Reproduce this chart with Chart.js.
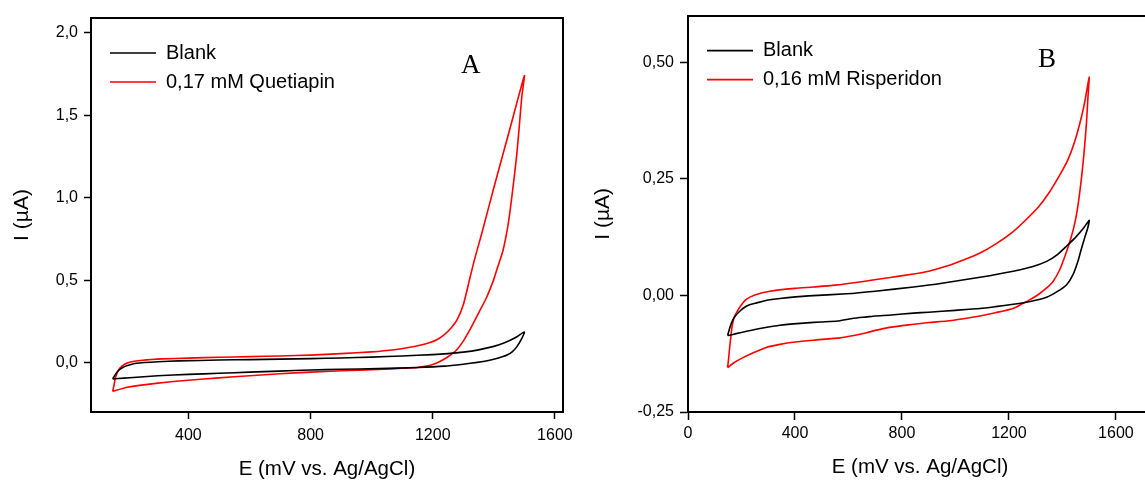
<!DOCTYPE html>
<html>
<head>
<meta charset="utf-8">
<script src="https://cdn.jsdelivr.net/npm/chart.js@4.4.1/dist/chart.umd.min.js"></script>
<style>
  html, body { margin: 0; padding: 0; background: #fff; overflow: hidden; width: 1145px; height: 482px; }
  .panel { position: absolute; top: 0; width: 580px; height: 482px; }
  #panelA { left: 0; }
  #panelB { left: 580px; }
</style>
</head>
<body>
<div class="panel" id="panelA"><canvas id="chartA"></canvas></div>
<div class="panel" id="panelB"><canvas id="chartB"></canvas></div>
<script>
// Panel A - Quetiapin, potential (mV) and current (uA), loop: forward scan then back
const blankA_E = [152, 160, 170, 185, 200, 230, 300, 370, 500, 600, 700, 800, 900, 1000, 1100, 1200, 1250, 1300, 1350, 1400, 1433, 1470, 1500,
                  1490, 1475, 1460, 1445, 1430, 1400, 1370, 1346, 1300, 1238, 1150, 1021, 900, 800, 696, 600, 500, 400, 300, 208, 170, 152];
const blankA_I = [-0.100, -0.075, -0.050, -0.030, -0.018, -0.004, 0.005, 0.010, 0.015, 0.018, 0.021, 0.024, 0.028, 0.033, 0.040, 0.048, 0.054, 0.063, 0.077, 0.098, 0.118, 0.150, 0.185,
                  0.140, 0.095, 0.065, 0.047, 0.036, 0.020, 0.008, 0.001, -0.010, -0.022, -0.030, -0.037, -0.041, -0.045, -0.052, -0.058, -0.065, -0.072, -0.080, -0.092, -0.097, -0.100];

const quetiapin_E = [152, 156, 160, 165, 175, 190, 210, 250, 316, 400, 500, 600, 700, 800, 900, 1000, 1075, 1125, 1175, 1210, 1238, 1260, 1280, 1300, 1320, 1336, 1360, 1400, 1450, 1500,
                     1492, 1485, 1475, 1460, 1447, 1430, 1411, 1399, 1375, 1350, 1325, 1300, 1275, 1250, 1225, 1200, 1184, 1150, 1100, 1021, 900, 800, 700, 600, 500, 400, 300, 200, 152];
const quetiapin_I = [-0.175, -0.14, -0.10, -0.07, -0.035, -0.012, 0.003, 0.014, 0.022, 0.027, 0.032, 0.036, 0.040, 0.045, 0.054, 0.065, 0.078, 0.093, 0.113, 0.135, 0.17, 0.21, 0.26, 0.35, 0.50, 0.62, 0.78, 1.06, 1.40, 1.74,
                     1.62, 1.47, 1.26, 1.02, 0.84, 0.68, 0.57, 0.50, 0.39, 0.30, 0.21, 0.13, 0.07, 0.035, 0.008, -0.012, -0.020, -0.030, -0.035, -0.042, -0.050, -0.058, -0.068, -0.080, -0.093, -0.107, -0.125, -0.150, -0.175];

const xTicksA = [400, 800, 1200, 1600];
const yTicksA = [0, 0.5, 1.0, 1.5, 2.0];

// Panel B - Risperidon
const blankB_E = [148, 155, 162, 170, 180, 190, 205, 230, 257, 300, 344, 450, 593, 700, 843, 950, 1092, 1216, 1290, 1341, 1380, 1416, 1450, 1480, 1500,
                  1495, 1484, 1470, 1459, 1440, 1416, 1380, 1341, 1280, 1216, 1150, 1092, 1000, 900, 843, 760, 700, 668, 618, 560, 494, 420, 344, 280, 219, 180, 160, 148];
const blankB_I = [-0.086, -0.072, -0.060, -0.050, -0.042, -0.036, -0.028, -0.020, -0.016, -0.010, -0.0065, -0.001, 0.0035, 0.009, 0.018, 0.026, 0.039, 0.052, 0.062, 0.073, 0.087, 0.106, 0.125, 0.145, 0.161,
                  0.145, 0.125, 0.098, 0.075, 0.045, 0.023, 0.008, -0.004, -0.013, -0.019, -0.024, -0.028, -0.032, -0.036, -0.038, -0.042, -0.044, -0.046, -0.049, -0.055, -0.057, -0.060, -0.064, -0.070, -0.077, -0.082, -0.085, -0.086];

const risperidon_E = [148, 152, 156, 160, 164, 172, 185, 200, 219, 250, 307, 400, 469, 550, 656, 750, 843, 900, 968, 1030, 1092, 1150, 1216, 1260, 1311, 1350, 1391, 1420, 1446, 1470, 1484, 1500,
                      1495, 1490, 1480, 1470, 1460, 1450, 1440, 1425, 1410, 1390, 1365, 1341, 1310, 1279, 1250, 1216, 1150, 1092, 1030, 968, 900, 843, 760, 700, 668, 620, 569, 469, 400, 344, 290, 244, 200, 170, 148];
const risperidon_I = [-0.155, -0.135, -0.11, -0.09, -0.07, -0.048, -0.033, -0.020, -0.008, 0.001, 0.009, 0.015, 0.018, 0.022, 0.030, 0.038, 0.046, 0.052, 0.063, 0.076, 0.091, 0.110, 0.137, 0.160, 0.190, 0.220, 0.259, 0.290, 0.330, 0.380, 0.416, 0.468,
                      0.420, 0.370, 0.300, 0.245, 0.200, 0.165, 0.140, 0.110, 0.085, 0.055, 0.030, 0.016, 0.002, -0.009, -0.018, -0.028, -0.037, -0.044, -0.050, -0.055, -0.058, -0.062, -0.068, -0.075, -0.080, -0.086, -0.091, -0.096, -0.100, -0.105, -0.112, -0.123, -0.135, -0.145, -0.155];

const xTicksB = [0, 400, 800, 1200, 1600];
const yTicksB = [-0.25, 0, 0.25, 0.5];

const xTitle = 'E (mV vs. Ag/AgCl)';
const yTitle = 'I (µA)';

Chart.defaults.color = '#000';
Chart.defaults.font.family = "'Liberation Sans', Arial, sans-serif";

function toPoints(xs, ys) {
    return xs.map((x, i) => ({ x: x, y: ys[i] }));
}

// moves the legend inside the frame, under the top left corner
const legendInside = {
    id: 'legendInside',
    afterLayout(chart, args, opts) {
        const lg = chart.legend;
        lg.left = chart.chartArea.left + opts.dx;
        lg.top = chart.chartArea.top + opts.dy;
    }
};

// big serif letter of the panel
const panelLetter = {
    id: 'panelLetter',
    afterDraw(chart, args, opts) {
        const ctx = chart.ctx;
        const a = chart.chartArea;
        ctx.save();
        ctx.font = '27px "Liberation Serif", "Times New Roman", serif';
        ctx.fillStyle = '#000';
        ctx.textBaseline = 'alphabetic';
        ctx.fillText(opts.text, a.left + opts.dx, a.top + opts.dy);
        ctx.restore();
    }
};

function drawPanel(id, p) {
    const data = {
        datasets: [{
            label: 'Blank',
            data: toPoints(p.blankE, p.blankI),
            borderColor: '#000000',
            borderWidth: 1.6
        }, {
            label: p.sampleLabel,
            data: toPoints(p.sampleE, p.sampleI),
            borderColor: '#ff0000',
            borderWidth: 1.6
        }]
    };

    // top and right axes only close the frame
    const frameAxis = (pos, size) => ({
        position: pos,
        display: true,
        ticks: { display: false },
        grid: { drawOnChartArea: false, drawTicks: false },
        border: { display: true, color: '#000', width: 2 },
        afterFit: s => { if (pos === 'top') s.height = size; else s.width = size; }
    });

    const options = {
        responsive: true,
        maintainAspectRatio: false,
        animation: false,
        devicePixelRatio: 1,
        showLine: true,
        elements: { point: { radius: 0 }, line: { tension: 0.2 } },
        layout: { padding: 0, autoPadding: false },
        plugins: {
            tooltip: { enabled: false },
            legend: {
                position: 'chartArea',
                align: 'start',
                labels: {
                    usePointStyle: true,
                    pointStyle: 'line',
                    pointStyleWidth: 46,
                    padding: 9,
                    font: { size: 20 },
                    color: '#000'
                }
            },
            legendInside: { dx: 10, dy: p.legendDy },
            panelLetter: { text: p.letter, dx: p.letterDx, dy: p.letterDy }
        },
        scales: {
            x: {
                type: 'linear',
                min: p.xMin,
                max: p.xMax,
                afterBuildTicks: s => { s.ticks = p.xTicks.map(v => ({ value: v })); },
                ticks: { font: { size: 16 }, padding: p.xTickPad, maxRotation: 0, callback: v => String(v) },
                grid: { drawOnChartArea: false, tickLength: p.tickLen, tickColor: '#000', tickWidth: 1.5 },
                border: { display: true, color: '#000', width: 2 },
                title: { display: true, text: xTitle, font: { size: 20.5 }, padding: { top: 0, bottom: p.xTitlePad } },
                afterFit: s => { s.height = 70; }
            },
            y: {
                type: 'linear',
                min: p.yMin,
                max: p.yMax,
                afterBuildTicks: s => { s.ticks = p.yTicks.map(v => ({ value: v })); },
                ticks: {
                    font: { size: 16 },
                    padding: 6,
                    callback: v => v.toFixed(p.yDigits).replace('.', ',')
                },
                grid: { drawOnChartArea: false, tickLength: p.tickLen, tickColor: '#000', tickWidth: 1.5 },
                border: { display: true, color: '#000', width: 2 },
                title: { display: true, text: yTitle, font: { size: 21 }, padding: { top: p.yTitlePad, bottom: 0 } },
                afterFit: s => { s.width = p.yAxisWidth; }
            },
            x2: Object.assign({ type: 'linear', min: p.xMin, max: p.xMax }, frameAxis('top', p.topGap)),
            y2: Object.assign({ type: 'linear', min: p.yMin, max: p.yMax }, frameAxis('right', p.rightGap))
        }
    };

    new Chart(id, { type: 'scatter', data, options, plugins: [legendInside, panelLetter] });
}

drawPanel('chartA', {
    blankE: blankA_E, blankI: blankA_I,
    sampleE: quetiapin_E, sampleI: quetiapin_I,
    sampleLabel: '0,17 mM Quetiapin',
    letter: 'A',
    xMin: 81, xMax: 1626, xTicks: xTicksA,
    yMin: -0.3, yMax: 2.09, yTicks: yTicksA, yDigits: 1,
    topGap: 18, rightGap: 14, yAxisWidth: 91,
    tickLen: 7, xTickPad: 7,
    xTitlePad: 0, yTitlePad: 10,
    legendDy: 16, letterDx: 370, letterDy: 55
});

drawPanel('chartB', {
    blankE: blankB_E, blankI: blankB_I,
    sampleE: risperidon_E, sampleI: risperidon_I,
    sampleLabel: '0,16 mM Risperidon',
    letter: 'B',
    xMin: 0, xMax: 1735, xTicks: xTicksB,
    yMin: -0.25, yMax: 0.60, yTicks: yTicksB, yDigits: 2,
    topGap: 14, rightGap: 8, yAxisWidth: 108,
    tickLen: 8, xTickPad: 4,
    xTitlePad: 2, yTitlePad: 11,
    legendDy: 16, letterDx: 350, letterDy: 51
});
</script>
</body>
</html>
